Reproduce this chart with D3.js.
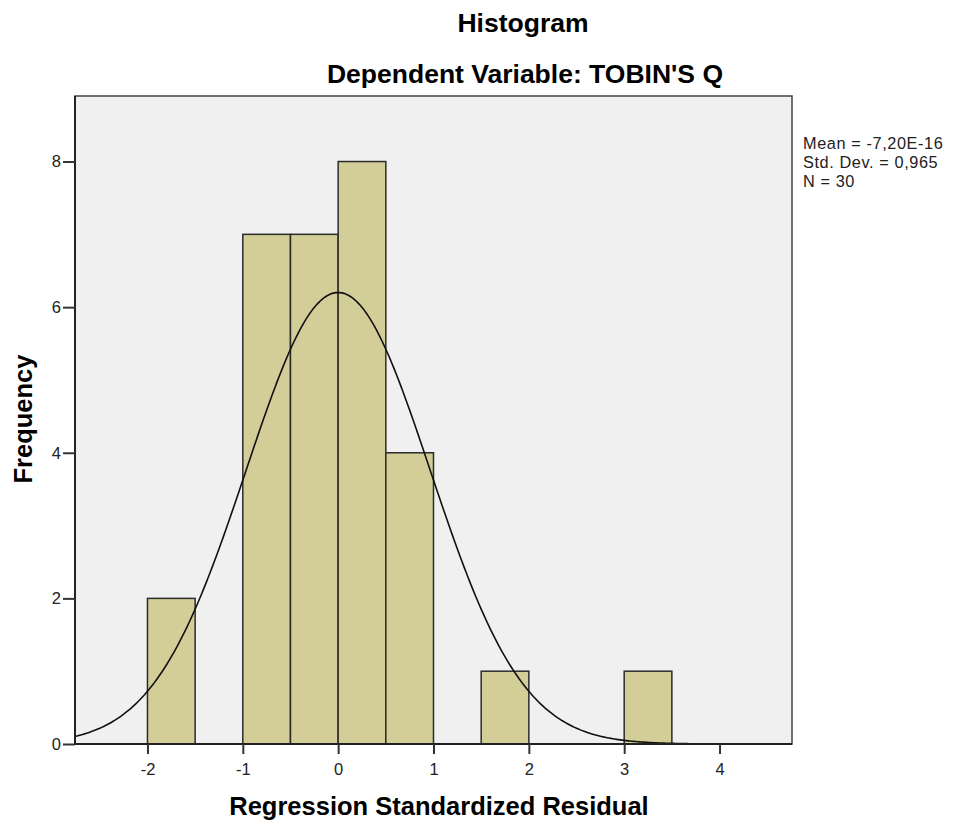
<!DOCTYPE html>
<html>
<head>
<meta charset="utf-8">
<script src="https://cdn.jsdelivr.net/npm/d3@7"></script>
<style>
  body { margin: 0; background: #fff; }
  svg { display: block; }
</style>
</head>
<body>
<div id="chart"></div>
<script>
const WIDTH = 953;
const HEIGHT = 823;

// histogram bins (lower edge, upper edge) and counts
const binStarts = [-2, -1, -0.5, 0, 0.5, 1.5, 3];
const binEnds = [-1.5, -0.5, 0, 0.5, 1, 2, 3.5];
const binCounts = [2, 7, 7, 8, 4, 1, 1];
const xTicks = [-2, -1, 0, 1, 2, 3, 4];
const yTicks = [0, 2, 4, 6, 8];
const statLines = ["Mean = -7,20E-16", "Std. Dev. = 0,965", "N = 30"];
const MEAN = 0, SD = 0.965, N = 30, BIN_W = 0.5;

const plot = { left: 75, right: 792, top: 96, bottom: 744 };
const FONT = "Arial, 'Liberation Sans', sans-serif";

var svg = d3.select("#chart").append("svg")
    .attr("width", WIDTH)
    .attr("height", HEIGHT)
    .attr("font-family", FONT);

var xScale = d3.scaleLinear()
    .domain([-2.76, 4.76])
    .range([plot.left, plot.right]);

var yScale = d3.scaleLinear()
    .domain([0, 8.9])
    .range([plot.bottom, plot.top]);

// plot background
svg.append("rect")
    .attr("x", plot.left)
    .attr("y", plot.top)
    .attr("width", plot.right - plot.left)
    .attr("height", plot.bottom - plot.top)
    .attr("fill", "#f0f0f0");

// bars
svg.append("g").selectAll("rect")
    .data(binCounts)
    .enter()
    .append("rect")
        .attr("x", (d, i) => xScale(binStarts[i]))
        .attr("y", d => yScale(d))
        .attr("width", (d, i) => xScale(binEnds[i]) - xScale(binStarts[i]))
        .attr("height", d => yScale(0) - yScale(d))
        .attr("fill", "#d3ce97")
        .attr("stroke", "#2b2b2b")
        .attr("stroke-width", 1.5);

// normal curve built from the stats shown in the legend
const curveX = d3.range(-2.76, 4.76, 0.02);
var line = d3.line()
    .x(d => xScale(d))
    .y(d => yScale(N * BIN_W / (SD * Math.sqrt(2 * Math.PI)) * Math.exp(-0.5 * Math.pow((d - MEAN) / SD, 2))));

svg.append("path")
    .datum(curveX)
    .attr("fill", "none")
    .attr("stroke", "#111")
    .attr("stroke-width", 1.6)
    .attr("d", line);

// frame
svg.append("rect")
    .attr("x", plot.left)
    .attr("y", plot.top)
    .attr("width", plot.right - plot.left)
    .attr("height", plot.bottom - plot.top)
    .attr("fill", "none")
    .attr("stroke", "#444")
    .attr("stroke-width", 1.5);

// axes
const fmt = d => String(d); // plain hyphen, not unicode minus
var xAxis = svg.append("g")
    .attr("transform", `translate(0,${plot.bottom})`)
    .call(d3.axisBottom(xScale).tickValues(xTicks).tickSize(10).tickPadding(9).tickFormat(fmt));
var yAxis = svg.append("g")
    .attr("transform", `translate(${plot.left},0)`)
    .call(d3.axisLeft(yScale).tickValues(yTicks).tickSize(12).tickPadding(2).tickFormat(fmt));

[xAxis, yAxis].forEach(a => {
    a.select(".domain").attr("stroke", "#222").attr("stroke-width", 2);
    a.selectAll(".tick line").attr("stroke", "#333").attr("stroke-width", 2);
    a.selectAll(".tick text")
        .attr("font-size", "16.5px")
        .attr("font-family", FONT)
        .attr("fill", "#222");
});
xAxis.select(".domain").attr("d", `M${plot.left},0H${plot.right}`);
yAxis.select(".domain").attr("d", `M0,${plot.top}V${plot.bottom}`);

// titles
svg.append("text")
    .attr("x", 523).attr("y", 32)
    .attr("text-anchor", "middle")
    .attr("font-size", "26.5px").attr("font-weight", "bold")
    .text("Histogram");
svg.append("text")
    .attr("x", 525).attr("y", 83)
    .attr("text-anchor", "middle")
    .attr("font-size", "26.5px").attr("font-weight", "bold")
    .text("Dependent Variable: TOBIN'S Q");

svg.append("text")
    .attr("x", 439).attr("y", 815)
    .attr("text-anchor", "middle")
    .attr("font-size", "25.5px").attr("font-weight", "bold")
    .text("Regression Standardized Residual");

svg.append("text")
    .attr("transform", `translate(32,419) rotate(-90)`)
    .attr("text-anchor", "middle")
    .attr("font-size", "25.5px").attr("font-weight", "bold")
    .text("Frequency");

// stats box
svg.append("g").selectAll("text")
    .data(statLines)
    .enter()
    .append("text")
        .attr("x", 803)
        .attr("y", (d, i) => 149 + i * 19)
        .attr("font-size", "16.3px")
        .attr("letter-spacing", "0.6px")
        .attr("fill", "#222")
        .text(d => d);
</script>
</body>
</html>
